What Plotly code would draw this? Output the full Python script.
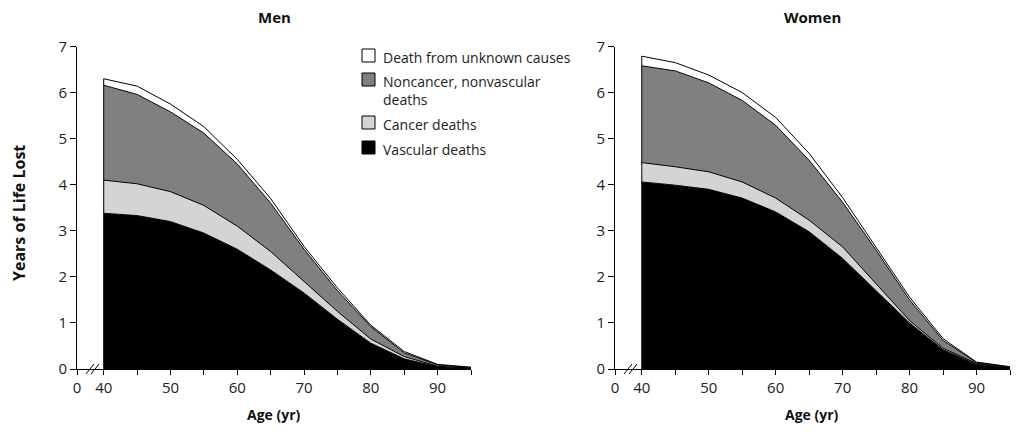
import plotly.graph_objects as go

ages = [40, 45, 50, 55, 60, 65, 70, 75, 80, 85, 90, 95]

# Cumulative (stacked) tops, years of life lost
men_vascular = [3.38, 3.33, 3.20, 2.95, 2.60, 2.15, 1.65, 1.08, 0.56, 0.22, 0.05, 0.02]
men_cancer   = [4.10, 4.02, 3.85, 3.55, 3.10, 2.55, 1.90, 1.25, 0.65, 0.27, 0.06, 0.02]
men_noncanc  = [6.16, 5.96, 5.58, 5.12, 4.45, 3.60, 2.60, 1.70, 0.92, 0.35, 0.09, 0.03]
men_total    = [6.30, 6.14, 5.75, 5.26, 4.55, 3.70, 2.66, 1.76, 0.95, 0.38, 0.10, 0.04]

women_vascular = [4.06, 3.99, 3.90, 3.71, 3.41, 2.98, 2.40, 1.70, 1.00, 0.42, 0.10, 0.03]
women_cancer   = [4.48, 4.39, 4.28, 4.06, 3.71, 3.23, 2.65, 1.85, 1.05, 0.45, 0.12, 0.03]
women_noncanc  = [6.58, 6.47, 6.21, 5.83, 5.29, 4.53, 3.62, 2.58, 1.50, 0.62, 0.14, 0.04]
women_total    = [6.79, 6.65, 6.38, 6.00, 5.46, 4.68, 3.72, 2.65, 1.56, 0.66, 0.15, 0.05]

series_names = ["Vascular deaths", "Cancer deaths", "Noncancer, nonvascular deaths",
                "Death from unknown causes"]
fill_colors = ["#000000", "#d4d4d4", "#808081", "#ffffff"]

x_tickvals = [36, 40, 45, 50, 55, 60, 65, 70, 75, 80, 85, 90, 95]
x_ticktext = ["0", "40", "", "50", "", "60", "", "70", "", "80", "", "90", ""]
y_tickvals = [0, 1, 2, 3, 4, 5, 6, 7]

FONT = "Open Sans"
fig = go.Figure()

panels = [
    ("x", "y", [men_vascular, men_cancer, men_noncanc, men_total]),
    ("x2", "y2", [women_vascular, women_cancer, women_noncanc, women_total]),
]
for xa, ya, layers in panels:
    for i, (vals, name, col) in enumerate(zip(layers, series_names, fill_colors)):
        fig.add_trace(go.Scatter(
            x=ages, y=vals, name=name, xaxis=xa, yaxis=ya,
            mode="lines", line=dict(color="black", width=1),
            fill="tozeroy" if i == 0 else "tonexty", fillcolor=col,
            showlegend=False, hoverinfo="skip"))
    # left edge of the stacked area at the first age
    fig.add_trace(go.Scatter(
        x=[ages[0], ages[0]], y=[0, layers[-1][0]], xaxis=xa, yaxis=ya,
        mode="lines", line=dict(color="black", width=1),
        showlegend=False, hoverinfo="skip"))

xaxis_common = dict(range=[36, 95], tickvals=x_tickvals, ticktext=x_ticktext,
                    showline=True, linecolor="black", linewidth=1,
                    ticks="outside", ticklen=5, tickcolor="black", tickwidth=1,
                    showgrid=False, zeroline=False, automargin=False,
                    tickfont=dict(family=FONT, size=15, color="#222"))
yaxis_common = dict(range=[0, 7], tickvals=y_tickvals,
                    showline=True, linecolor="black", linewidth=1,
                    ticks="outside", ticklen=6, tickcolor="black", tickwidth=1,
                    showgrid=False, zeroline=False, automargin=False,
                    tickfont=dict(family=FONT, size=15, color="#222"))

W, H = 1024, 432
OFF = 8  # page body margin in the browser


def px_x(p):
    return (p - OFF) / W


def px_y(p):
    return (H - (p - OFF)) / H


fig.update_layout(
    width=W, height=H, margin=dict(l=0, r=0, t=0, b=0, pad=0, autoexpand=False),
    paper_bgcolor="white", plot_bgcolor="white", showlegend=False,
    xaxis=dict(domain=[px_x(77), px_x(471)], anchor="y", **xaxis_common),
    yaxis=dict(domain=[px_y(369), px_y(46.5)], anchor="x", **yaxis_common),
    xaxis2=dict(domain=[px_x(615), px_x(1010)], anchor="y2", **xaxis_common),
    yaxis2=dict(domain=[px_y(369), px_y(46.5)], anchor="x2", **yaxis_common),
)

ann = []
bold = dict(family=FONT, size=14, color="#111")
ann.append(dict(text="<b>Men</b>", x=px_x(274), y=px_y(17), xref="paper", yref="paper",
                showarrow=False, font=dict(family=FONT, size=15, color="#111"),
                xanchor="center", yanchor="middle"))
ann.append(dict(text="<b>Women</b>", x=px_x(812), y=px_y(17), xref="paper", yref="paper",
                showarrow=False, font=dict(family=FONT, size=15, color="#111"),
                xanchor="center", yanchor="middle"))
ann.append(dict(text="<b>Age (yr)</b>", x=px_x(274), y=px_y(414), xref="paper", yref="paper",
                showarrow=False, font=bold, xanchor="center", yanchor="middle"))
ann.append(dict(text="<b>Age (yr)</b>", x=px_x(812), y=px_y(414), xref="paper", yref="paper",
                showarrow=False, font=bold, xanchor="center", yanchor="middle"))
ann.append(dict(text="<b>Years of Life Lost</b>", x=px_x(19), y=px_y(213), xref="paper",
                yref="paper", showarrow=False, font=dict(family=FONT, size=16, color="#111"),
                textangle=-90, xanchor="center", yanchor="middle"))

# manual legend
legend_items = [
    ("Death from unknown causes", fill_colors[3], 49),
    ("Noncancer, nonvascular<br>deaths", fill_colors[2], 73),
    ("Cancer deaths", fill_colors[1], 116),
    ("Vascular deaths", fill_colors[0], 141),
]
shapes = []
for text, col, top in legend_items:
    shapes.append(dict(type="rect", xref="paper", yref="paper",
                       x0=px_x(362), x1=px_x(375), y0=px_y(top + 13), y1=px_y(top),
                       fillcolor=col, line=dict(color="black", width=1)))
    ann.append(dict(text=text, x=px_x(381), y=px_y(top - 3), xref="paper", yref="paper",
                    showarrow=False, xanchor="left", yanchor="top", align="left",
                    font=dict(family=FONT, size=14, color="#222")))

# axis-break marks
for base in (86, 624):
    for dx in (0, 5):
        shapes.append(dict(type="line", xref="paper", yref="paper",
                           x0=px_x(base + dx), y0=px_y(374),
                           x1=px_x(base + dx + 8), y1=px_y(364),
                           line=dict(color="black", width=1)))

fig.update_layout(annotations=ann, shapes=shapes)
fig.write_html("out.html")
